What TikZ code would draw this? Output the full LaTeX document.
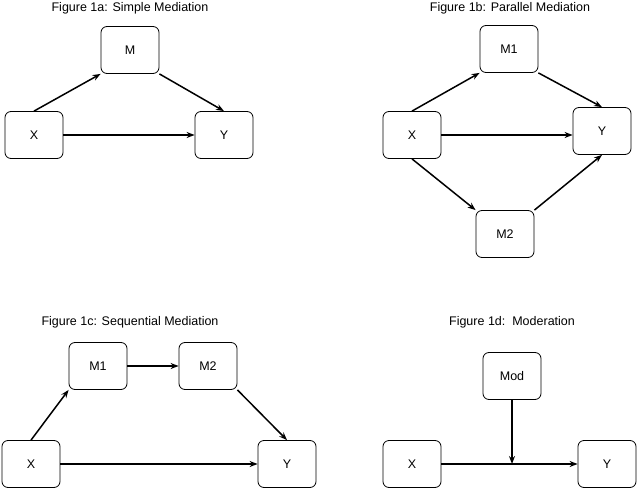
\documentclass[tikz,border=0pt]{standalone}
\usepackage{fontspec}
\setmainfont{Liberation Sans}
\usetikzlibrary{arrows.meta}
\begin{document}
\begin{tikzpicture}[x=1pt,y=-1pt,
 box/.style={draw,rounded corners=6pt,minimum width=58pt,minimum height=47pt,font=\fontsize{12.5}{14}\selectfont,line width=0.8pt},
 ttl/.style={font=\fontsize{12.5}{14}\selectfont},
 ar/.style={-{Stealth[length=8pt,width=6pt]},line width=1.5pt}]
\useasboundingbox (0,0) rectangle (638,490);
% 1a
\node[ttl] (t1) at (130,8) {Figure 1a: Simple Mediation};
\node[box] (a1M) at (130,50) {M};
\node[box] (a1X) at (34,135) {X};
\node[box] (a1Y) at (224,135) {Y};
\draw[ar] (a1X.north) -- (a1M.south west);
\draw[ar] (a1M.south east) -- (a1Y.north);
\draw[ar] (a1X) -- (a1Y);
% 1b
\node[ttl] (t2) at (510,8) {Figure 1b: Parallel Mediation};
\node[box] (b1M) at (509,49) {M1};
\node[box] (b1X) at (412,135) {X};
\node[box] (b1Y) at (602,131) {Y};
\node[box] (b1M2) at (505,234) {M2};
\draw[ar] (b1X.north) -- (b1M.south west);
\draw[ar] (b1M.south east) -- (b1Y.north);
\draw[ar] (b1X.east) -- (b1Y.west |- b1X.east);
\draw[ar] (b1X.south) -- (b1M2.north west);
\draw[ar] (b1M2.north east) -- (b1Y.south);
% 1c
\node[ttl] (t3) at (130,322) {Figure 1c: Sequential Mediation};
\node[box] (c1M) at (98,366) {M1};
\node[box] (c1M2) at (208,366) {M2};
\node[box] (c1X) at (31,464) {X};
\node[box] (c1Y) at (287,464) {Y};
\draw[ar] (c1X.north) -- (c1M.south west);
\draw[ar] (c1M) -- (c1M2);
\draw[ar] (c1M2.south east) -- (c1Y.north);
\draw[ar] (c1X) -- (c1Y);
% 1d
\node[ttl] (t4) at (512,322) {Figure 1d:\ \ Moderation};
\node[box] (dMod) at (512,376) {Mod};
\node[box] (dX) at (412,464) {X};
\node[box] (dY) at (607,464) {Y};
\draw[ar] (dX) -- (dY);
\coordinate (dj) at (dMod.south |- dX.east);
\draw[ar] (dMod.south) -- (dj);
\end{tikzpicture}
\end{document}
